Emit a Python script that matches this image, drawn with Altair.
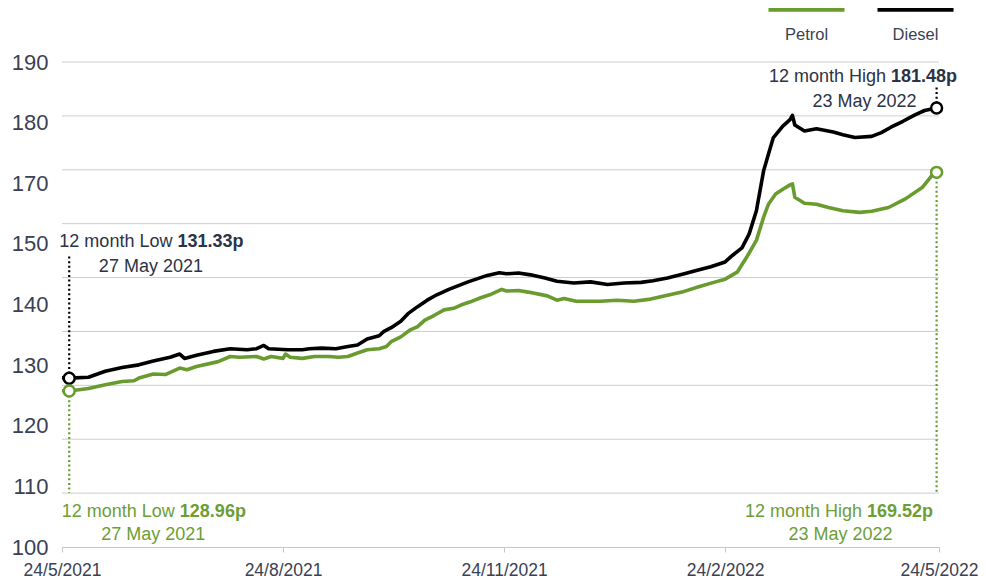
import altair as alt
import pandas as pd

# ---------------- data ----------------
diesel_dates = [
    "2021-05-24", "2021-05-27", "2021-06-04", "2021-06-11", "2021-06-18", "2021-06-25",
    "2021-07-01", "2021-07-08", "2021-07-12", "2021-07-14", "2021-07-19", "2021-07-26",
    "2021-08-02", "2021-08-09", "2021-08-13", "2021-08-16", "2021-08-18", "2021-08-26",
    "2021-09-01", "2021-09-04", "2021-09-09", "2021-09-15", "2021-09-20", "2021-09-24",
    "2021-09-28", "2021-10-03", "2021-10-05", "2021-10-08", "2021-10-12", "2021-10-15",
    "2021-10-19", "2021-10-23", "2021-10-27", "2021-11-01", "2021-11-05", "2021-11-09",
    "2021-11-13", "2021-11-17", "2021-11-22", "2021-11-25", "2021-11-30", "2021-12-05",
    "2021-12-11", "2021-12-16", "2021-12-23", "2021-12-30", "2022-01-06", "2022-01-13",
    "2022-01-20", "2022-01-25", "2022-01-31", "2022-02-07", "2022-02-12", "2022-02-18",
    "2022-02-24", "2022-02-27", "2022-03-03", "2022-03-06", "2022-03-09", "2022-03-12",
    "2022-03-14", "2022-03-16", "2022-03-20", "2022-03-23", "2022-03-24", "2022-03-25",
    "2022-03-29", "2022-04-03", "2022-04-10", "2022-04-14", "2022-04-19", "2022-04-26",
    "2022-04-30", "2022-05-04", "2022-05-09", "2022-05-14", "2022-05-18", "2022-05-23",
]
diesel_values = [
    131.4, 131.33, 131.5, 132.6, 133.3, 133.8,
    134.5, 135.2, 135.8, 135.0, 135.6, 136.3,
    136.8, 136.6, 136.8, 137.4, 136.8, 136.6,
    136.6, 136.8, 136.9, 136.8, 137.2, 137.5,
    138.6, 139.2, 140.0, 140.7, 141.9, 143.3,
    144.6, 145.8, 146.8, 147.8, 148.5, 149.2,
    149.8, 150.4, 150.9, 150.7, 150.85, 150.5,
    149.9, 149.3, 149.0, 149.2, 148.7, 149.0,
    149.1, 149.4, 149.9, 150.7, 151.3, 152.0,
    152.9, 154.1, 155.5, 158.1, 162.4, 169.8,
    172.9, 175.9, 178.1, 179.3, 180.1, 178.3,
    177.2, 177.6, 177.0, 176.5, 176.0, 176.2,
    176.9, 177.9, 179.0, 180.2, 181.0, 181.48,
]

petrol_dates = [
    "2021-05-24", "2021-05-27", "2021-06-04", "2021-06-11", "2021-06-18", "2021-06-23",
    "2021-06-25", "2021-07-01", "2021-07-06", "2021-07-12", "2021-07-15", "2021-07-19",
    "2021-07-28", "2021-08-02", "2021-08-06", "2021-08-13", "2021-08-16", "2021-08-19",
    "2021-08-24", "2021-08-25", "2021-08-27", "2021-09-01", "2021-09-06", "2021-09-12",
    "2021-09-16", "2021-09-20", "2021-09-24", "2021-09-28", "2021-10-03", "2021-10-06",
    "2021-10-08", "2021-10-12", "2021-10-16", "2021-10-19", "2021-10-22", "2021-10-26",
    "2021-10-30", "2021-11-03", "2021-11-06", "2021-11-10", "2021-11-14", "2021-11-18",
    "2021-11-23", "2021-11-25", "2021-11-30", "2021-12-04", "2021-12-12", "2021-12-16",
    "2021-12-19", "2021-12-24", "2022-01-03", "2022-01-10", "2022-01-17", "2022-01-24",
    "2022-01-31", "2022-02-06", "2022-02-13", "2022-02-20", "2022-02-24", "2022-03-01",
    "2022-03-05", "2022-03-09", "2022-03-12", "2022-03-14", "2022-03-17", "2022-03-20",
    "2022-03-23", "2022-03-24", "2022-03-25", "2022-03-29", "2022-04-03", "2022-04-08",
    "2022-04-14", "2022-04-21", "2022-04-26", "2022-05-03", "2022-05-10", "2022-05-17",
    "2022-05-21", "2022-05-23",
]
petrol_values = [
    129.0, 128.96, 129.4, 130.1, 130.7, 130.85,
    131.35, 132.1, 132.0, 133.2, 132.9, 133.5,
    134.4, 135.35, 135.2, 135.35, 134.9, 135.35,
    135.0, 135.8, 135.2, 135.0, 135.35, 135.35,
    135.2, 135.35, 136.0, 136.6, 136.8, 137.2,
    138.1, 139.0, 140.3, 140.9, 142.1, 143.0,
    144.0, 144.3, 144.9, 145.5, 146.2, 146.8,
    147.8, 147.5, 147.6, 147.3, 146.6, 145.8,
    146.1, 145.6, 145.6, 145.8, 145.6, 146.0,
    146.7, 147.3, 148.3, 149.2, 149.7, 151.0,
    153.8, 156.9, 161.2, 163.6, 165.5, 166.4,
    167.2, 167.4, 164.9, 163.8, 163.6, 163.0,
    162.4, 162.1, 162.3, 163.0, 164.6, 166.7,
    168.9, 169.52,
]

series_names = ["Petrol", "Diesel"]
line_colors = ["#699b2f", "#000000"]
text_colors = ["#6c9e36", "#2c3346"]

y_tick_labels = ["100", "110", "120", "130", "140", "150", "170", "180", "190"]
grid_values = [110, 120, 130, 140, 150, 160, 170, 180, 190]
x_tick_dates = ["2021-05-24", "2021-08-24", "2021-11-24", "2022-02-24", "2022-05-24"]

# 12-month extremes
ann_series = ["Diesel", "Petrol", "Diesel", "Petrol"]
ann_dates = ["2021-05-27", "2021-05-27", "2022-05-23", "2022-05-23"]
ann_values = [131.33, 128.96, 181.48, 169.52]
ann_kind = ["12 month Low", "12 month Low", "12 month High", "12 month High"]
ann_date_text = ["27 May 2021", "27 May 2021", "23 May 2022", "23 May 2022"]

# ---------------- tables ----------------
lines_df = pd.concat([
    pd.DataFrame({"date": pd.to_datetime(petrol_dates), "value": petrol_values, "series": "Petrol"}),
    pd.DataFrame({"date": pd.to_datetime(diesel_dates), "value": diesel_values, "series": "Diesel"}),
], ignore_index=True)

grid_df = pd.DataFrame({"g": grid_values})

ann_df = pd.DataFrame({
    "series": ann_series,
    "date": pd.to_datetime(ann_dates),
    "value": ann_values,
    "kind": ann_kind,
    "amount": [f"{v:.2f}p" for v in ann_values],
    "when": ann_date_text,
})
# annotation placement (leader end, text anchors) in data units
ann_df["lead_end"] = [154.2, 110.0, 185.4, 110.0]
ann_df["a1"] = pd.to_datetime(["2021-07-10", "2021-07-11", "2022-05-03", "2022-04-23"])
ann_df["y1"] = [156.6, 106.5, 187.2, 106.5]
ann_df["a2"] = pd.to_datetime(["2021-06-30", "2021-07-01", "2022-04-23", "2022-04-13"])
ann_df["y2"] = [152.0, 102.2, 182.6, 102.3]

# ---------------- scales & guides ----------------
def dt(s):
    t = pd.Timestamp(s)
    return alt.DateTime(year=t.year, month=t.month, date=t.day)

FONT = "Liberation Sans"
AXIS_TXT = "#3a4155"

x_scale = alt.Scale(domain=[dt(x_tick_dates[0]), dt(x_tick_dates[-1])], nice=False)
y_scale = alt.Scale(domain=[100, 190], nice=False, zero=False)
color_scale = alt.Scale(domain=series_names, range=line_colors)
text_scale = alt.Scale(domain=series_names, range=text_colors)

step = 90 / (len(y_tick_labels) - 1)
y_axis = alt.Axis(
    values=[100 + step * i for i in range(len(y_tick_labels))],
    labelExpr="[" + ",".join(f"'{s}'" for s in y_tick_labels) + f"][round((datum.value-100)/{step})]",
    grid=False, ticks=False, domain=False, labelPadding=14,
    labelFontSize=22, labelColor=AXIS_TXT, labelFont=FONT, title=None,
)
x_axis = alt.Axis(
    values=[dt(s) for s in x_tick_dates], format="%-d/%-m/%Y", grid=False,
    domainColor="#c6c6c6", tickColor="#c6c6c6", tickSize=5, labelPadding=9,
    labelFontSize=17.5, labelColor=AXIS_TXT, labelFont=FONT, labelFlush=False,
    labelOverlap=False, title=None,
)
legend = alt.Legend(
    title=None, orient="none", legendX=704, legendY=-68, direction="horizontal",
    symbolType="M-1,-0.666H1", symbolSize=5776, symbolStrokeWidth=5,
    labelAlign="center", labelOffset={"expr": "-40.5"}, labelBaseline="middle",
    labelFontSize=16.5, labelColor=AXIS_TXT, labelFont=FONT, columnPadding=12, padding=0,
)

# ---------------- layers ----------------
grid = alt.Chart(grid_df).mark_rule(color="#cdcdcd", strokeWidth=1).encode(
    y=alt.Y("g:Q", scale=y_scale, title=None)
)

lines = alt.Chart(lines_df).mark_line(strokeWidth=3.6, strokeJoin="round").encode(
    x=alt.X("date:T", scale=x_scale, axis=x_axis),
    y=alt.Y("value:Q", scale=y_scale, axis=y_axis),
    color=alt.Color("series:N", scale=color_scale, legend=legend),
)

leaders = alt.Chart(ann_df).mark_rule(strokeDash=[2, 2.6], strokeWidth=2.2).encode(
    x=alt.X("date:T", title=None),
    y=alt.Y("value:Q", title=None),
    y2="lead_end:Q",
    color=alt.Color("series:N", scale=color_scale, legend=None),
)

markers = alt.Chart(ann_df).mark_point(
    shape="circle", filled=True, fill="white", size=120, strokeWidth=2.5, opacity=1
).encode(
    x=alt.X("date:T", title=None),
    y=alt.Y("value:Q", title=None),
    stroke=alt.Stroke("series:N", scale=color_scale, legend=None),
)

txt_kind = alt.Chart(ann_df).mark_text(
    align="right", baseline="middle", dx=-2.5, fontSize=18, font=FONT
).encode(
    x=alt.X("a1:T", title=None), y=alt.Y("y1:Q", title=None), text="kind:N",
    fill=alt.Fill("series:N", scale=text_scale, legend=None),
)
txt_amount = alt.Chart(ann_df).mark_text(
    align="left", baseline="middle", dx=2.5, fontSize=18, font=FONT, fontWeight="bold"
).encode(
    x=alt.X("a1:T", title=None), y=alt.Y("y1:Q", title=None), text="amount:N",
    fill=alt.Fill("series:N", scale=text_scale, legend=None),
)
txt_when = alt.Chart(ann_df).mark_text(
    align="center", baseline="middle", fontSize=18, font=FONT
).encode(
    x=alt.X("a2:T", title=None), y=alt.Y("y2:Q", title=None), text="when:N",
    fill=alt.Fill("series:N", scale=text_scale, legend=None),
)

chart = alt.layer(grid, lines, leaders, markers, txt_kind, txt_amount, txt_when).properties(
    width=877, height=485,
    autosize=alt.AutoSizeParams(type="none"),
    padding={"left": 54, "top": 54, "right": 39, "bottom": 31},
).configure(font=FONT).configure_view(strokeWidth=0)

chart.save("out.html", embed_options={"renderer": "svg", "actions": False})
